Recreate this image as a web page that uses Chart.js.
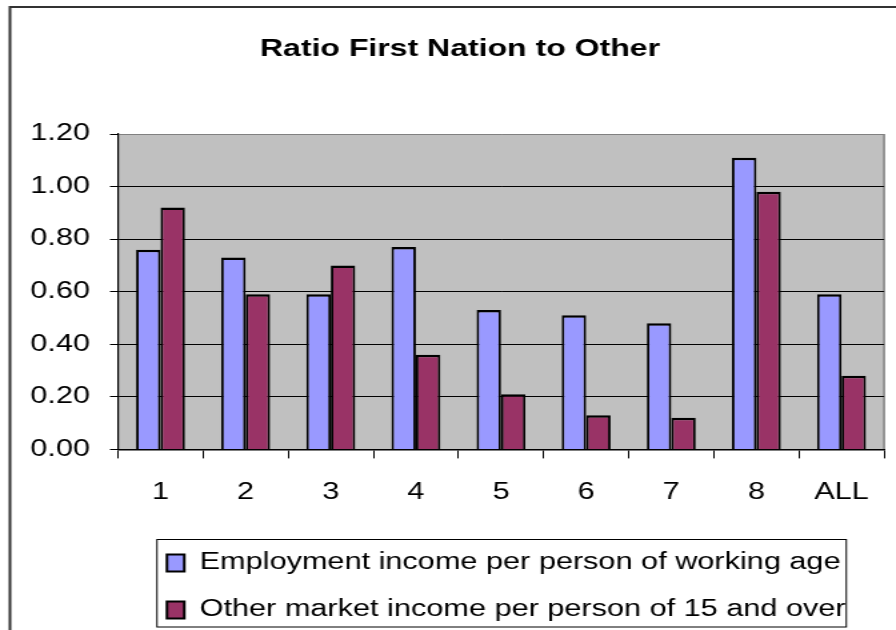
<!DOCTYPE html>
<html>
<head>
<meta charset="utf-8">
<script src="https://cdn.jsdelivr.net/npm/chart.js@4/dist/chart.umd.min.js"></script>
<style>
  html, body { margin: 0; padding: 0; background: #fff; overflow: hidden; }
  /* the chart is laid out on a narrower canvas and widened, giving the wide lettering */
  #wrap { width: 672px; height: 630px; transform: scaleX(1.3333333); transform-origin: 0 0; }
</style>
</head>
<body>
<div id="wrap"><canvas id="c" width="672" height="630" style="width:672px;height:630px"></canvas></div>
<script>
const categories = ['1', '2', '3', '4', '5', '6', '7', '8', 'ALL'];
const employmentRatio = [0.76, 0.73, 0.59, 0.77, 0.53, 0.51, 0.48, 1.11, 0.59];
const otherMarketRatio = [0.92, 0.59, 0.70, 0.36, 0.21, 0.13, 0.12, 0.98, 0.28];
const seriesNames = [
  'Employment income per person of working age',
  'Other market income per person of 15 and over'
];
const chartTitle = 'Ratio First Nation to Other';
const yMin = 0, yMax = 1.2, yStep = 0.2;

Chart.defaults.font.family = "'Liberation Sans', Arial, Helvetica, sans-serif";
Chart.defaults.color = '#000';

// plot background, legend frame, outer border and block placement
const framePlugin = {
  id: 'framePlugin',
  afterLayout(chart) {
    chart.titleBlock.left += 16.7;
    const lg = chart.legend;
    const h = lg.height;
    lg.left = 101.25;
    lg.top = 527.5;
    lg.bottom = lg.top + h + 20;
    lg.right = chart.width;
  },
  beforeDraw(chart) {
    const { ctx, chartArea: a } = chart;
    const lg = chart.legend;
    ctx.save();
    ctx.fillStyle = '#fff';
    ctx.fillRect(0, 0, chart.width, chart.height);
    ctx.fillStyle = '#C0C0C0';
    ctx.fillRect(a.left, a.top, a.right - a.left, a.bottom - a.top);
    ctx.strokeStyle = '#808080';
    ctx.lineWidth = 1.5;
    ctx.beginPath();
    ctx.moveTo(a.right, a.top);
    ctx.lineTo(a.right, a.bottom);
    ctx.stroke();
    // legend frame
    ctx.strokeStyle = '#000';
    ctx.lineWidth = 1;
    ctx.strokeRect(lg.left + 16.5, lg.top + 12, 517, 87.5);
    // outer chart border
    ctx.strokeStyle = '#333';
    ctx.lineWidth = 2;
    ctx.beginPath();
    ctx.moveTo(7.5, chart.height);
    ctx.lineTo(7.5, 7);
    ctx.lineTo(chart.width, 7);
    ctx.stroke();
    ctx.restore();
  }
};

const barBorder = { top: 2.5, left: 1.9, right: 1.9, bottom: 0 };

new Chart(document.getElementById('c'), {
  type: 'bar',
  data: {
    labels: categories,
    datasets: [
      {
        label: seriesNames[0],
        data: employmentRatio,
        backgroundColor: '#9999FF',
        borderColor: '#000',
        borderWidth: barBorder,
        categoryPercentage: 0.574,
        barPercentage: 1
      },
      {
        label: seriesNames[1],
        data: otherMarketRatio,
        backgroundColor: '#993366',
        borderColor: '#000',
        borderWidth: barBorder,
        categoryPercentage: 0.574,
        barPercentage: 1
      }
    ]
  },
  options: {
    responsive: false,
    devicePixelRatio: 1,
    animation: false,
    layout: { padding: { top: 8, left: 8, right: 6.7, bottom: 0 } },
    scales: {
      x: {
        ticks: { color: '#000', font: { size: 23 }, padding: 20, maxRotation: 0, autoSkip: false },
        grid: { drawOnChartArea: false, drawTicks: true, tickLength: 9, color: '#000', offset: true },
        border: { color: '#000', width: 1.5 }
      },
      y: {
        min: yMin,
        max: yMax,
        ticks: {
          stepSize: yStep,
          padding: 15,
          color: '#000',
          font: { size: 23 },
          callback: v => Number(v).toFixed(2)
        },
        grid: {
          color: c => (c.tick && c.tick.value >= yMax - 1e-9 ? '#808080' : '#000'),
          tickColor: '#000',
          lineWidth: 1,
          tickLength: 6
        },
        border: { color: '#000', width: 1.2 },
        afterFit: s => { s.width = 80.5; }
      }
    },
    plugins: {
      title: {
        display: true,
        text: chartTitle,
        color: '#000',
        font: { size: 24, weight: 'bold' },
        padding: { top: 26.5, bottom: 70.7 }
      },
      legend: {
        position: 'bottom',
        align: 'start',
        labels: {
          color: '#000',
          font: { size: 23 },
          boxWidth: 13,
          boxHeight: 17,
          padding: 24,
          generateLabels: chart =>
            Chart.defaults.plugins.legend.labels.generateLabels(chart)
              .map(item => ({ ...item, lineWidth: 2 }))
        }
      },
      tooltip: { enabled: false }
    }
  },
  plugins: [framePlugin]
});
</script>
</body>
</html>
